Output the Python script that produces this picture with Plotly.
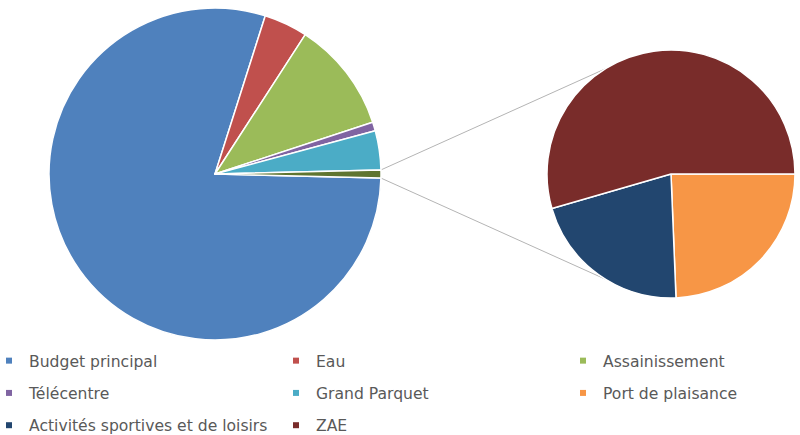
import math
import plotly.graph_objects as go

# ---- data ----
main_labels = ["Budget principal", "Eau", "Assainissement", "Télécentre", "Grand Parquet"]
main_values = [79.5, 4.25, 10.8, 0.86, 3.8]
main_colors = ["#4F81BD", "#C0504D", "#9BBB59", "#8064A2", "#4BACC6"]

sub_labels = ["Port de plaisance", "Activités sportives et de loisirs", "ZAE"]
sub_values = [0.19, 0.165, 0.425]
sub_colors = ["#F79646", "#22466F", "#792C2A"]

other_label = "Autres"
other_color = "#5F7530"

# legend layout (columns, as in the reference)
legend_columns = [
    ["Budget principal", "Télécentre", "Activités sportives et de loisirs"],
    ["Eau", "Grand Parquet", "ZAE"],
    ["Assainissement", "Port de plaisance"],
]

# ---- geometry (pixels) ----
W, H = 800, 435
L_CX, L_CY, L_R = 215, 174, 166
R_CX, R_CY, R_R = 671, 174, 124


def dom(cx, cy, r):
    return dict(x=[(cx - r) / W, (cx + r) / W], y=[1 - (cy + r) / H, 1 - (cy - r) / H])


other_value = sum(sub_values)
left_values = main_values + [other_value]
total = sum(left_values)
other_deg = 360.0 * other_value / total
left_rotation = 90 + other_deg / 2.0

fig = go.Figure()

fig.add_trace(go.Pie(
    labels=main_labels + [other_label],
    values=left_values,
    marker=dict(colors=main_colors + [other_color], line=dict(color="white", width=1.5)),
    sort=False,
    direction="clockwise",
    rotation=left_rotation,
    textinfo="none",
    showlegend=False,
    domain=dom(L_CX, L_CY, L_R),
))

fig.add_trace(go.Pie(
    labels=sub_labels,
    values=sub_values,
    marker=dict(colors=sub_colors, line=dict(color="white", width=1.5)),
    sort=False,
    direction="clockwise",
    rotation=90,
    textinfo="none",
    showlegend=False,
    domain=dom(R_CX, R_CY, R_R),
))

# connector lines between the "other" slice and the secondary pie
def pt(cx, cy, r, ang):
    a = math.radians(ang)
    x = cx + r * math.sin(a)
    y = cy - r * math.cos(a)
    return x / W, 1 - y / H

up0 = pt(L_CX, L_CY, L_R, 90 - other_deg / 2)
lo0 = pt(L_CX, L_CY, L_R, 90 + other_deg / 2)
up1 = pt(R_CX, R_CY, R_R, 328)
lo1 = pt(R_CX, R_CY, R_R, 212)
for a, b in [(up0, up1), (lo0, lo1)]:
    fig.add_shape(type="line", xref="paper", yref="paper",
                  x0=a[0], y0=a[1], x1=b[0], y1=b[1],
                  line=dict(color="#B4B4B4", width=1), layer="below")

# legend entries
color_of = dict(zip(main_labels + sub_labels, main_colors + sub_colors))
legend_names = ["legend", "legend2", "legend3"]
col_text_x = [29, 316, 603]
for ci, col in enumerate(legend_columns):
    for label in col:
        fig.add_trace(go.Scatter(
            x=[None], y=[None], mode="markers", name=label,
            marker=dict(symbol="square", size=6, color=color_of[label]),
            legend=legend_names[ci], legendgroup=label,
            hoverinfo="skip",
        ))

legend_font = dict(family="DejaVu Sans", size=15.6, color="#595959")
for ci, ln in enumerate(legend_names):
    fig.update_layout({ln: dict(
        x=(col_text_x[ci] - 40) / W, xanchor="left",
        y=1 - 344 / H, yanchor="top",
        orientation="v", tracegroupgap=9.0,
        bgcolor="rgba(0,0,0,0)", font=legend_font,
        itemclick=False, itemdoubleclick=False,
    )})

fig.update_layout(
    width=W, height=H,
    margin=dict(l=0, r=0, t=0, b=0, autoexpand=False),
    paper_bgcolor="white", plot_bgcolor="white",
    xaxis=dict(visible=False), yaxis=dict(visible=False),
    font=dict(family="DejaVu Sans", color="#595959"),
)

fig.write_html("out.html")
